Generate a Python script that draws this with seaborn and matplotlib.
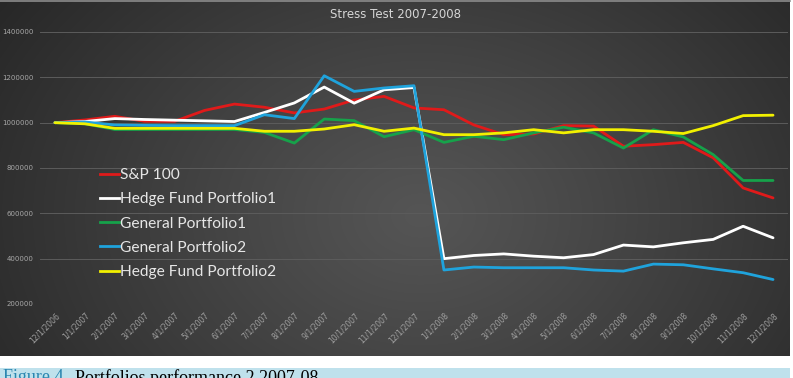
import numpy as np
import pandas as pd
import matplotlib
matplotlib.use("Agg")
import matplotlib.pyplot as plt
import seaborn as sns
from matplotlib.lines import Line2D
from matplotlib.patches import Rectangle

# ---------------- data ----------------
dates = ["12/1/2006", "1/1/2007", "2/1/2007", "3/1/2007", "4/1/2007", "5/1/2007",
         "6/1/2007", "7/1/2007", "8/1/2007", "9/1/2007", "10/1/2007", "11/1/2007",
         "12/1/2007", "1/1/2008", "2/1/2008", "3/1/2008", "4/1/2008", "5/1/2008",
         "6/1/2008", "7/1/2008", "8/1/2008", "9/1/2008", "10/1/2008", "11/1/2008",
         "12/1/2008"]

sp100 = [1000000, 1012000, 1028000, 1006000, 1006000, 1054000, 1082000, 1068000,
         1043000, 1060000, 1100000, 1116000, 1065000, 1057000, 990000, 947000,
         950000, 987000, 985000, 896000, 903000, 913000, 845000, 712000, 668000]
hedge1 = [1000000, 1005000, 1018000, 1014000, 1011000, 1008000, 1005000, 1045000,
          1087000, 1157000, 1086000, 1145000, 1155000, 400000, 414000, 421000,
          411000, 404000, 418000, 460000, 452000, 470000, 485000, 543000, 492000]
general1 = [1000000, 995000, 970000, 970000, 970000, 970000, 970000, 957000,
            910000, 1016000, 1009000, 938000, 969000, 913000, 940000, 925000,
            955000, 980000, 955000, 888000, 969000, 937000, 859000, 745000, 745000]
general2 = [1000000, 1003000, 990000, 988000, 987000, 987000, 987000, 1035000,
            1018000, 1207000, 1138000, 1153000, 1163000, 350000, 363000, 360000,
            360000, 360000, 350000, 345000, 376000, 373000, 355000, 338000, 308000]
hedge2 = [1000000, 995000, 975000, 975000, 975000, 975000, 975000, 962000,
          962000, 972000, 991000, 962000, 976000, 947000, 947000, 955000,
          969000, 955000, 969000, 969000, 962000, 952000, 987000, 1031000, 1033000]

series_names = ["S&P 100", "Hedge Fund Portfolio1", "General Portfolio1",
                "General Portfolio2", "Hedge Fund Portfolio2"]
series_values = [sp100, hedge1, general1, general2, hedge2]
series_colors = ["#e01a1a", "#ffffff", "#16a24a", "#1fa3dc", "#f2f000"]

yticks = [200000, 400000, 600000, 800000, 1000000, 1200000, 1400000]

rows = []
for name, vals in zip(series_names, series_values):
    for i, v in enumerate(vals):
        rows.append({"idx": i, "value": v, "series": name})
df = pd.DataFrame(rows)

# ---------------- figure ----------------
W, H = 793, 378
fig = plt.figure(figsize=(W / 100, H / 100), dpi=100)
fig.patch.set_facecolor("white")

# gradient background of the chart area
bh, bw = 356, 790
bg = fig.add_axes([0, 1 - bh / H, bw / W, bh / H])
bg.axis("off")
yy, xx = np.mgrid[0:bh, 0:bw]
r = np.sqrt(((xx - 420) / 560.0) ** 2 + ((yy - 215) / 420.0) ** 2)
r = np.clip(r, 0, 1) ** 1.1
inner = np.array([0x55, 0x55, 0x55]) / 255
outer = np.array([0x22, 0x22, 0x22]) / 255
img = inner + (outer - inner) * r[..., None]
bg.imshow(img, aspect="auto", extent=[0, 1, 0, 1])
fig.add_artist(Line2D([0, bw / W], [1 - 0.5 / H, 1 - 0.5 / H],
                      transform=fig.transFigure, color="#8c8c8c", lw=1.2))

# caption bar
fig.add_artist(Rectangle((0, 0), bw / W, 10.5 / H, transform=fig.transFigure,
                         facecolor="#bfe1ec", edgecolor="none"))
fig.text(3 / W, 1 - 369 / H, "Figure 4.", color="#2a86b0",
         family="Liberation Serif", fontsize=13, va="top", ha="left")
fig.text(75 / W, 1 - 369 / H, "Portfolios performance 2 2007-08", color="black",
         family="Liberation Serif", fontsize=13, va="top", ha="left")

# main axes
ax = fig.add_axes([40 / W, 1 - 304 / H, (788 - 40) / W, (304 - 32) / H])
ax.set_facecolor("none")
sns.lineplot(data=df, x="idx", y="value", hue="series", hue_order=series_names,
             palette=series_colors, linewidth=2.0, ax=ax, legend=False,
             sort=False)
for ln in ax.lines:
    ln.set_solid_joinstyle("round")
    ln.set_solid_capstyle("round")

ax.set_xlim(-0.5, 24.5)
ax.set_ylim(200000, 1400000)
ax.set_yticks(yticks)
ax.set_yticklabels([str(v) for v in yticks], fontsize=5, color="#a8a8a8")
ax.set_xticks(range(len(dates)))
ax.set_xticklabels(dates, rotation=45, ha="right", va="top",
                   rotation_mode="anchor", fontsize=5.5, color="#a0a0a0")
ax.tick_params(axis="both", length=0)
ax.tick_params(axis="y", pad=4.5)
ax.tick_params(axis="x", pad=5)
ax.yaxis.grid(True, color="#5c5c5c", lw=0.7)
ax.xaxis.grid(False)
ax.set_axisbelow(True)
for s in ax.spines.values():
    s.set_visible(False)
ax.set_xlabel("")
ax.set_ylabel("")

# legend
handles = [Line2D([0], [0], color=c, lw=2.0) for c in series_colors]
leg = ax.legend(handles, series_names, loc="upper left",
                bbox_to_anchor=(100 / W, 1 - 168 / H),
                bbox_transform=fig.transFigure, frameon=False,
                borderpad=0, borderaxespad=0, handlelength=1.2,
                handletextpad=0.1, labelspacing=0.66,
                prop={"family": "Lato", "size": 11.2})
for t in leg.get_texts():
    t.set_color("#e6e6e6")

# title
fig.text(396 / W, 1 - 15 / H, "Stress Test 2007-2008", ha="center", va="center",
         fontsize=8.5, color="#d6d6d6")

fig.savefig("out.png", dpi=100)
